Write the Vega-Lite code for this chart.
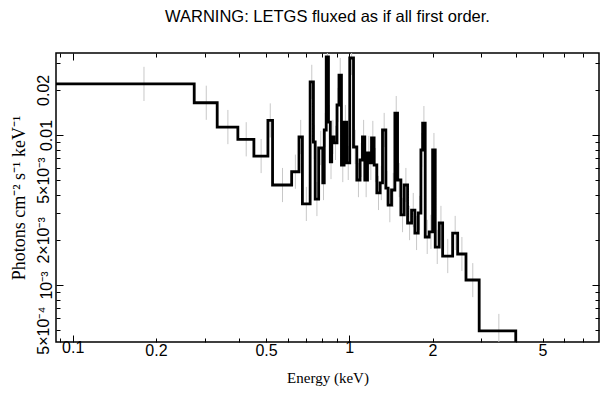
{
  "$schema": "https://vega.github.io/schema/vega-lite/v6.json",
  "width": 543,
  "height": 289,
  "autosize": {"type": "none"},
  "padding": {"left": 56, "top": 53, "right": 9, "bottom": 57},
  "title": {"text": "WARNING: LETGS fluxed as if all first order.", "font": "Liberation Sans", "fontSize": 16.5, "fontWeight": "normal", "color": "#000", "anchor": "middle", "offset": 27},
  "data": {"values": [
    {"elo": 0.087, "ec": 0.181, "v": 0.0219, "lo": 0.01685, "hi": 0.02847},
    {"elo": 0.275, "ec": 0.304, "v": 0.0164, "lo": 0.01262, "hi": 0.02132},
    {"elo": 0.333, "ec": 0.364, "v": 0.0113, "lo": 0.00869, "hi": 0.01469},
    {"elo": 0.3955, "ec": 0.424, "v": 0.00936, "lo": 0.0072, "hi": 0.01217},
    {"elo": 0.452, "ec": 0.48, "v": 0.00724, "lo": 0.00557, "hi": 0.00941},
    {"elo": 0.508, "ec": 0.518, "v": 0.0125, "lo": 0.00962, "hi": 0.01625},
    {"elo": 0.528, "ec": 0.5735, "v": 0.00464, "lo": 0.00357, "hi": 0.00603},
    {"elo": 0.619, "ec": 0.6385, "v": 0.00569, "lo": 0.00438, "hi": 0.0074},
    {"elo": 0.658, "ec": 0.6675, "v": 0.0097, "lo": 0.00746, "hi": 0.01261},
    {"elo": 0.677, "ec": 0.6995, "v": 0.00347, "lo": 0.00267, "hi": 0.00451},
    {"elo": 0.722, "ec": 0.732, "v": 0.0226, "lo": 0.01738, "hi": 0.02938},
    {"elo": 0.742, "ec": 0.7475, "v": 0.00898, "lo": 0.00691, "hi": 0.01167},
    {"elo": 0.753, "ec": 0.764, "v": 0.00374, "lo": 0.00288, "hi": 0.00486},
    {"elo": 0.775, "ec": 0.7885, "v": 0.00819, "lo": 0.0063, "hi": 0.01065},
    {"elo": 0.802, "ec": 0.807, "v": 0.00479, "lo": 0.00368, "hi": 0.00623},
    {"elo": 0.812, "ec": 0.8188, "v": 0.0108, "lo": 0.00831, "hi": 0.01404},
    {"elo": 0.8255, "ec": 0.8333, "v": 0.0331, "lo": 0.02546, "hi": 0.04303},
    {"elo": 0.841, "ec": 0.8475, "v": 0.0122, "lo": 0.00938, "hi": 0.01586},
    {"elo": 0.854, "ec": 0.859, "v": 0.00661, "lo": 0.00508, "hi": 0.00859},
    {"elo": 0.864, "ec": 0.8725, "v": 0.0097, "lo": 0.00746, "hi": 0.01261},
    {"elo": 0.881, "ec": 0.892, "v": 0.00885, "lo": 0.00681, "hi": 0.01151},
    {"elo": 0.903, "ec": 0.9105, "v": 0.01585, "lo": 0.01219, "hi": 0.02061},
    {"elo": 0.918, "ec": 0.9275, "v": 0.0251, "lo": 0.01931, "hi": 0.03263},
    {"elo": 0.937, "ec": 0.9475, "v": 0.00631, "lo": 0.00485, "hi": 0.0082},
    {"elo": 0.958, "ec": 0.9685, "v": 0.0122, "lo": 0.00938, "hi": 0.01586},
    {"elo": 0.979, "ec": 0.9915, "v": 0.00651, "lo": 0.00501, "hi": 0.00846},
    {"elo": 1.004, "ec": 1.02, "v": 0.0326, "lo": 0.02508, "hi": 0.04238},
    {"elo": 1.036, "ec": 1.0505, "v": 0.00832, "lo": 0.0064, "hi": 0.01082},
    {"elo": 1.065, "ec": 1.0795, "v": 0.00501, "lo": 0.00385, "hi": 0.00651},
    {"elo": 1.094, "ec": 1.105, "v": 0.00681, "lo": 0.00524, "hi": 0.00885},
    {"elo": 1.116, "ec": 1.127, "v": 0.0097, "lo": 0.00746, "hi": 0.01261},
    {"elo": 1.138, "ec": 1.151, "v": 0.00501, "lo": 0.00385, "hi": 0.00651},
    {"elo": 1.164, "ec": 1.177, "v": 0.00759, "lo": 0.00584, "hi": 0.00987},
    {"elo": 1.19, "ec": 1.1968, "v": 0.00651, "lo": 0.00501, "hi": 0.00846},
    {"elo": 1.2035, "ec": 1.2168, "v": 0.00955, "lo": 0.00735, "hi": 0.01242},
    {"elo": 1.23, "ec": 1.244, "v": 0.00631, "lo": 0.00485, "hi": 0.0082},
    {"elo": 1.258, "ec": 1.2755, "v": 0.00411, "lo": 0.00316, "hi": 0.00534},
    {"elo": 1.293, "ec": 1.306, "v": 0.00479, "lo": 0.00368, "hi": 0.00623},
    {"elo": 1.319, "ec": 1.3375, "v": 0.0108, "lo": 0.00831, "hi": 0.01404},
    {"elo": 1.356, "ec": 1.369, "v": 0.00443, "lo": 0.00341, "hi": 0.00576},
    {"elo": 1.382, "ec": 1.402, "v": 0.00341, "lo": 0.00262, "hi": 0.00443},
    {"elo": 1.422, "ec": 1.442, "v": 0.0043, "lo": 0.00331, "hi": 0.00559},
    {"elo": 1.462, "ec": 1.4785, "v": 0.014, "lo": 0.01077, "hi": 0.0182},
    {"elo": 1.495, "ec": 1.516, "v": 0.00501, "lo": 0.00385, "hi": 0.00651},
    {"elo": 1.537, "ec": 1.5585, "v": 0.00293, "lo": 0.00225, "hi": 0.00381},
    {"elo": 1.58, "ec": 1.6025, "v": 0.00464, "lo": 0.00357, "hi": 0.00603},
    {"elo": 1.625, "ec": 1.6525, "v": 0.00259, "lo": 0.00199, "hi": 0.00337},
    {"elo": 1.68, "ec": 1.7035, "v": 0.00316, "lo": 0.00243, "hi": 0.00411},
    {"elo": 1.727, "ec": 1.7515, "v": 0.00222, "lo": 0.00171, "hi": 0.00289},
    {"elo": 1.776, "ec": 1.796, "v": 0.00302, "lo": 0.00232, "hi": 0.00393},
    {"elo": 1.816, "ec": 1.829, "v": 0.00794, "lo": 0.00611, "hi": 0.01032},
    {"elo": 1.842, "ec": 1.862, "v": 0.012, "lo": 0.00923, "hi": 0.0156},
    {"elo": 1.882, "ec": 1.9138, "v": 0.00209, "lo": 0.00161, "hi": 0.00272},
    {"elo": 1.9455, "ec": 1.9738, "v": 0.00226, "lo": 0.00174, "hi": 0.00294},
    {"elo": 2.002, "ec": 2.024, "v": 0.00794, "lo": 0.00611, "hi": 0.01032},
    {"elo": 2.046, "ec": 2.0805, "v": 0.00179, "lo": 0.00138, "hi": 0.00233},
    {"elo": 2.115, "ec": 2.1455, "v": 0.00259, "lo": 0.00199, "hi": 0.00337},
    {"elo": 2.176, "ec": 2.2705, "v": 0.00156, "lo": 0.0012, "hi": 0.00203},
    {"elo": 2.365, "ec": 2.4155, "v": 0.00222, "lo": 0.00171, "hi": 0.00289},
    {"elo": 2.466, "ec": 2.5545, "v": 0.00161, "lo": 0.00124, "hi": 0.00209},
    {"elo": 2.643, "ec": 2.7965, "v": 0.00108, "lo": 0.00083, "hi": 0.0014},
    {"elo": 2.95, "ec": 3.475, "v": 0.000494, "lo": 0.00038, "hi": 0.000642},
    {"elo": 4.0, "ec": null, "v": 0.00001, "lo": null, "hi": null}
  ]},
  "layer": [
    {
      "mark": {"type": "rule", "color": "#c8c8c8", "strokeWidth": 1, "clip": true},
      "encoding": {
        "x": {
          "field": "ec", "type": "quantitative",
          "scale": {"type": "log", "domain": [0.087, 8.0], "nice": false, "zero": false},
          "axis": {
            "orient": "bottom", "title": "Energy (keV)",
            "values": [0.09, 0.1, 0.2, 0.3, 0.4, 0.5, 0.6, 0.7, 0.8, 0.9, 1, 2, 3, 4, 5, 6, 7],
            "labelExpr": "(datum.value == 0.1 || datum.value == 0.2 || datum.value == 0.5 || datum.value == 1 || datum.value == 2 || datum.value == 5) ? format(datum.value, '~g') : ''",
            "tickSize": {"condition": {"test": "datum.value == 0.1 || datum.value == 1", "value": -7}, "value": -4},
            "labelPadding": 4, "labelOverlap": false, "labelFlush": false,
            "labelFont": "Liberation Sans", "labelFontSize": 16,
            "titleFont": "Liberation Serif", "titleFontSize": 15, "titleFontWeight": "normal", "titlePadding": 12
          }
        },
        "y": {
          "field": "lo", "type": "quantitative",
          "scale": {"type": "log", "domain": [0.000417, 0.0352], "nice": false, "zero": false},
          "axis": {
            "orient": "left", "title": "Photons cm⁻² s⁻¹ keV⁻¹",
            "values": [0.0005, 0.0006, 0.0007, 0.0008, 0.0009, 0.001, 0.002, 0.003, 0.004, 0.005, 0.006, 0.007, 0.008, 0.009, 0.01, 0.02, 0.03],
            "labelExpr": "datum.value == 0.02 ? '0.02' : datum.value == 0.01 ? '0.01' : datum.value == 0.005 ? '5×10⁻³' : datum.value == 0.002 ? '2×10⁻³' : datum.value == 0.001 ? '10⁻³' : datum.value == 0.0005 ? '5×10⁻⁴' : ''",
            "tickSize": {"condition": {"test": "datum.value == 0.01 || datum.value == 0.001", "value": -7}, "value": -4},
            "labelAngle": 270, "labelPadding": 9, "labelOverlap": false, "labelFlush": false,
            "labelFont": "Liberation Sans", "labelFontSize": 16,
            "titleFont": "Liberation Serif", "titleFontSize": 18, "titleFontWeight": "normal", "titlePadding": 7
          }
        },
        "y2": {"field": "hi"}
      }
    },
    {
      "mark": {"type": "line", "color": "#000", "strokeWidth": 2.8, "interpolate": "step-after", "clip": true},
      "encoding": {
        "x": {
          "field": "elo", "type": "quantitative",
          "axis": {
            "orient": "top", "title": null, "labels": false,
            "values": [0.09, 0.1, 0.2, 0.3, 0.4, 0.5, 0.6, 0.7, 0.8, 0.9, 1, 2, 3, 4, 5, 6, 7],
            "tickSize": {"condition": {"test": "datum.value == 0.1 || datum.value == 1", "value": -7}, "value": -4}
          }
        },
        "y": {
          "field": "v", "type": "quantitative",
          "axis": {
            "orient": "right", "title": null, "labels": false,
            "values": [0.0005, 0.0006, 0.0007, 0.0008, 0.0009, 0.001, 0.002, 0.003, 0.004, 0.005, 0.006, 0.007, 0.008, 0.009, 0.01, 0.02, 0.03],
            "tickSize": {"condition": {"test": "datum.value == 0.01 || datum.value == 0.001", "value": -7}, "value": -4}
          }
        }
      }
    }
  ],
  "resolve": {"axis": {"x": "independent", "y": "independent"}},
  "config": {
    "view": {"stroke": "#000", "strokeWidth": 1.5},
    "axis": {"domain": false, "grid": false, "tickColor": "#000", "tickWidth": 1, "labelColor": "#000", "titleColor": "#000"}
  }
}
